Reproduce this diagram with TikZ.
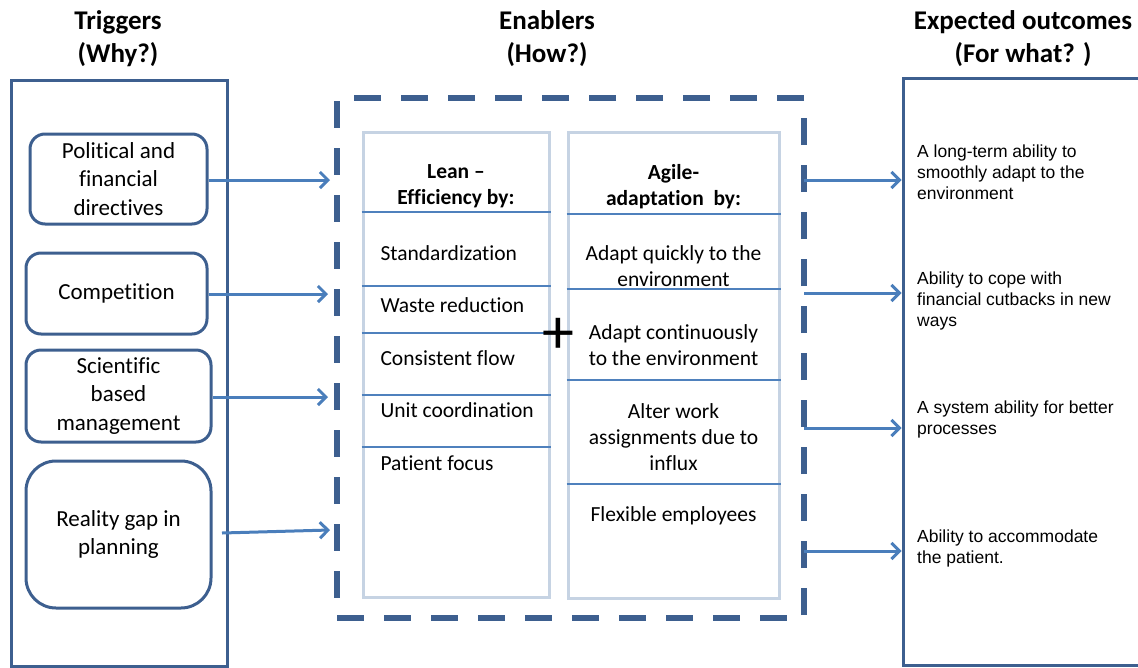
\documentclass[tikz,border=0pt]{standalone}
\usepackage{fontspec}
\setmainfont{Carlito}[Ligatures=NoCommon]
\newfontfamily\arialfont{Liberation Sans}
\usetikzlibrary{arrows.meta}
\definecolor{frameblue}{HTML}{3D5F8F}
\definecolor{arrowblue}{HTML}{4A7EBB}
\definecolor{colgray}{HTML}{C6D3E3}
\definecolor{sepblue}{HTML}{4F81BD}

\begin{document}
\begin{tikzpicture}[x=1pt, y=-1pt,
	head/.style={align=center, font=\bfseries\fontsize{27}{33}\selectfont},
	outer/.style={draw=frameblue, line width=3pt, inner sep=0pt},
	trig/.style={draw=frameblue, line width=3pt, rounded corners=15pt, inner sep=0pt, align=center, font=\fontsize{23}{28.5}\selectfont},
	enab/.style={draw=frameblue, line width=6pt, dash pattern=on 27pt off 20pt, inner sep=0pt},
	column/.style={draw=colgray, line width=3pt, inner sep=0pt},
	colhead/.style={align=center, font=\bfseries\fontsize{21.5}{26}\selectfont},
	item/.style={align=center, font=\fontsize{21.5}{26}\selectfont},
	outtext/.style={anchor=west, align=left, inner sep=0pt, font=\arialfont\fontsize{17.5}{21}\selectfont},
	sep/.style={draw=sepblue, line width=1.6pt},
	arr/.style={draw=arrowblue, line width=3pt, -{Straight Barb[length=8pt, width=16pt, line width=3pt]}}]
		\useasboundingbox (0,0) rectangle (1138,667);
		
		\node[head] (hwhy) at (118,39){Triggers\\(Why?)};
		\node[head] (hhow) at (547,39){Enablers\\(How?)};
		\node[head] (hwhat) at (1023,39){Expected outcomes\\(For what? )};
		
		\node[outer, minimum width=216pt, minimum height=586pt] (why) at (119,373){};
		\node[enab, minimum width=467pt, minimum height=520pt] (how) at (570.5,358){};
		\node[outer, minimum width=247pt, minimum height=587pt] (what) at (1026.5,371.5){};
		
		\node[trig, minimum width=177pt, minimum height=90pt] (t1) at (118.5,179){Political and\\financial\\directives};
		\node[trig, minimum width=181pt, minimum height=81pt] (t2) at (116.5,293.5){Competition};
		\node[trig, minimum width=185pt, minimum height=92pt] (t3) at (118.5,396){Scientific\\based\\management};
		\node[trig, minimum width=185pt, minimum height=147pt, rounded corners=30pt] (t4) at (118.5,534.5){Reality gap in\\planning};
		
		\node[column, minimum width=186pt, minimum height=465pt] (lean) at (456,364.5){};
		\node[column, minimum width=211pt, minimum height=466pt] (agile) at (673.5,365){};
		
		\path[sep] (lean.west |- 0,212) -- (lean.east |- 0,212);
		\path[sep] (lean.west |- 0,286) -- (lean.east |- 0,286);
		\path[sep] (lean.west |- 0,333) -- (lean.east |- 0,333);
		\path[sep] (lean.west |- 0,395) -- (lean.east |- 0,395);
		\path[sep] (lean.west |- 0,447) -- (lean.east |- 0,447);
		
		\path[sep] (agile.west |- 0,214) -- (agile.east |- 0,214);
		\path[sep] (agile.west |- 0,289) -- (agile.east |- 0,289);
		\path[sep] (agile.west |- 0,380) -- (agile.east |- 0,380);
		\path[sep] (agile.west |- 0,484) -- (agile.east |- 0,484);
		
		\node[colhead] (lhead) at (456,186){Lean --\\Efficiency by:};
		\node[item, anchor=west] (l1) at (377,253){Standardization};
		\node[item, anchor=west] (l2) at (377,305){Waste reduction};
		\node[item, anchor=west] (l3) at (377,358){Consistent flow};
		\node[item, anchor=west] (l4) at (377,410){Unit coordination};
		\node[item, anchor=west] (l5) at (377,463){Patient focus};
		
		\node[colhead] (ahead) at (673.5,187){Agile-\\adaptation \ by:};
		\node[item] (a1) at (673.5,266){Adapt quickly to the\\environment};
		\node[item] (a2) at (673.5,345){Adapt continuously\\to the environment};
		\node[item] (a3) at (673.5,437){Alter work\\assignments due to\\influx};
		\node[item] (a4) at (673.5,516){Flexible employees};
		
		\node[font=\fontsize{64}{64}\selectfont, inner sep=0pt] (plus) at (558,336){+};
		
		\node[outtext] (o1) at (917,172){A long-term ability to\\smoothly adapt to the\\environment};
		\node[outtext] (o2) at (917,301){Ability to cope with\\financial cutbacks in new\\ways};
		\node[outtext] (o3) at (917,419.5){A system ability for better\\processes};
		\node[outtext] (o4) at (917,548.5){Ability to accommodate\\the patient.};
		
		\coordinate (e1) at (330,180);
		\coordinate (e2) at (328,294);
		\coordinate (e3) at (328,397);
		\coordinate (e4) at (330,530);
		\coordinate (t4out) at (222,533);
		
		\coordinate (s1) at (804,180);
		\coordinate (s2) at (804,293);
		\coordinate (s3) at (804,428);
		\coordinate (s4) at (804,551);
		
		\path[arr] (t1.east |- e1) -- (e1);
		\path[arr] (t2.east |- e2) -- (e2);
		\path[arr] (t3.east |- e3) -- (e3);
		\path[arr] (t4out) -- (e4);
		
		\path[arr] (s1) -- (s1 -| what.west);
		\path[arr] (s2) -- (s2 -| what.west);
		\path[arr] (s3) -- (s3 -| what.west);
		\path[arr] (s4) -- (s4 -| what.west);
\end{tikzpicture}
\end{document}
